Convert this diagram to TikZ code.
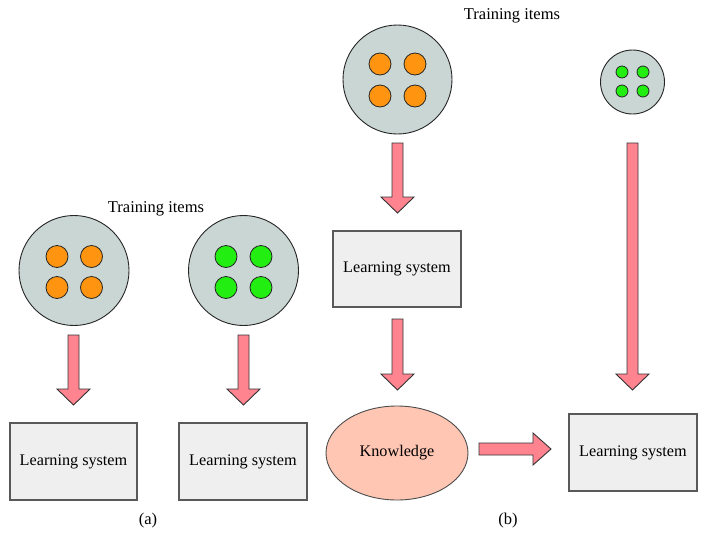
\documentclass[tikz,border=0pt]{standalone}
\usepackage{fontspec}
\setmainfont{Liberation Serif}
\usetikzlibrary{shapes.geometric}
\definecolor{poolbg}{HTML}{C9D6D3}
\definecolor{dotorange}{HTML}{FF9410}
\definecolor{dotgreen}{HTML}{22EE11}
\definecolor{arrowpink}{HTML}{FF8490}
\definecolor{boxfill}{HTML}{EFEFEF}
\definecolor{knowfill}{HTML}{FFC6B4}
\tikzset{
  pool/.style={circle, draw=black!85, line width=0.9pt, fill=poolbg, inner sep=0pt},
  dot/.style={circle, draw=black!85, line width=0.8pt, inner sep=0pt, minimum size=#1},
  lsbox/.style={rectangle, draw=black!65, line width=1.3pt, fill=boxfill, minimum width=127pt, minimum height=77pt, inner sep=0pt, font=\fontsize{16.2}{19}\selectfont},
  know/.style={ellipse, draw=black!70, line width=0.9pt, fill=knowfill, minimum width=142pt, minimum height=94pt, inner sep=0pt, font=\fontsize{16.2}{19}\selectfont},
  blockarrow/.style={draw=black!80, line width=0.9pt, fill=arrowpink, line join=miter},
  caption/.style={font=\fontsize{16.5}{19}\selectfont, inner sep=0pt},
}
% vertical block arrow: x, top of shaft, start of head, tip
\newcommand\BArrowDown[4]{%
  \draw[blockarrow] (#1-5.5,#2) -- (#1+5.5,#2) -- (#1+5.5,#3) -- (#1+16.5,#3) -- (#1,#4)
    -- (#1-16.5,#3) -- (#1-5.5,#3) -- cycle;}
\begin{document}
\begin{tikzpicture}[x=1pt,y=-1pt]
\useasboundingbox (0,0) rectangle (707,555);
\fill[white] (0,0) rectangle (707,555);

% ---------- panel (a) ----------
\node[caption] (tia) at (156,209) {Training items};
\node[pool, minimum size=110pt] (pa1) at (74,270.5) {};
\node[dot=22pt, fill=dotorange] (pa1a) at (57,256.5) {};
\node[dot=22pt, fill=dotorange] (pa1b) at (91.5,256.5) {};
\node[dot=22pt, fill=dotorange] (pa1c) at (57,287.5) {};
\node[dot=22pt, fill=dotorange] (pa1d) at (91.5,287.5) {};

\node[pool, minimum size=110pt] (pa2) at (243.5,270.5) {};
\node[dot=22pt, fill=dotgreen] (pa2a) at (226,256.5) {};
\node[dot=22pt, fill=dotgreen] (pa2b) at (261,256.5) {};
\node[dot=22pt, fill=dotgreen] (pa2c) at (226,287.5) {};
\node[dot=22pt, fill=dotgreen] (pa2d) at (261,287.5) {};

\node[lsbox] (la1) at (73.5,461.5) {Learning system};
\node[lsbox, minimum width=128pt] (la2) at (243,461.5) {Learning system};

\BArrowDown{73.5}{335}{389}{405}
\BArrowDown{243.5}{335}{389}{405}

\node[caption] (capa) at (148,521) {(a)};

% ---------- panel (b) ----------
\node[caption] (tib) at (512,16) {Training items};
\node[pool, minimum size=109pt] (pb1) at (397.5,79.5) {};
\node[dot=22pt, fill=dotorange] (pb1a) at (380,64) {};
\node[dot=22pt, fill=dotorange] (pb1b) at (415,64) {};
\node[dot=22pt, fill=dotorange] (pb1c) at (380,96) {};
\node[dot=22pt, fill=dotorange] (pb1d) at (415,96) {};

\node[pool, minimum size=64pt] (pb2) at (632.5,82) {};
\node[dot=12pt, fill=dotgreen] (pb2a) at (622,72) {};
\node[dot=12pt, fill=dotgreen] (pb2b) at (643,72) {};
\node[dot=12pt, fill=dotgreen] (pb2c) at (622,91) {};
\node[dot=12pt, fill=dotgreen] (pb2d) at (643,91) {};

\node[lsbox, minimum width=128pt, minimum height=76pt] (lb1) at (397,269) {Learning system};
\node[know] (kn) at (397,453) {Knowledge};
\node[lsbox, minimum width=128pt] (lb2) at (633,452.5) {Learning system};

\BArrowDown{397.5}{143}{197}{213}
\BArrowDown{397.5}{319}{374}{390}
\BArrowDown{632.5}{143}{374}{390}
\draw[blockarrow] (479,443) -- (533,443) -- (533,433) -- (551,449) -- (533,465)
  -- (533,455) -- (479,455) -- cycle;

\node[caption] (capb) at (508,521) {(b)};
\end{tikzpicture}
\end{document}
